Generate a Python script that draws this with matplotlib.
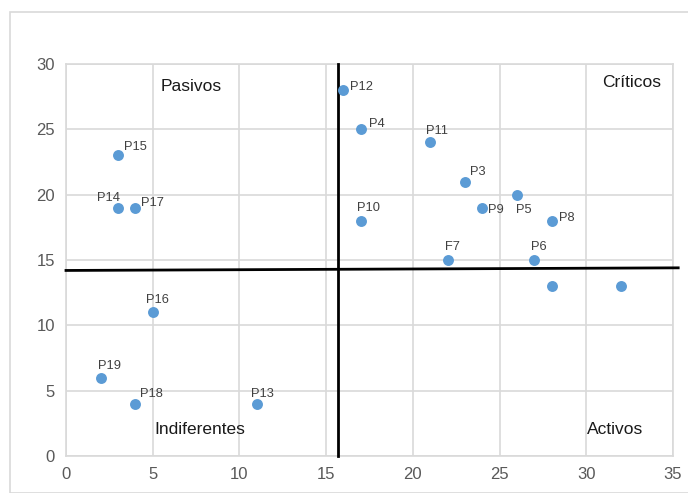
import matplotlib
matplotlib.use("Agg")
import matplotlib.pyplot as plt
from matplotlib.patches import Rectangle

plt.rcParams['font.family'] = ['Liberation Sans', 'DejaVu Sans']

labels = ["P12", "P4", "P11", "P3", "P5", "P9", "P8", "P10", "F7", "P6", "", "",
          "P15", "P14", "P17", "P16", "P19", "P18", "P13"]
xs = [16, 17, 21, 23, 26, 24, 28, 17, 22, 27, 28, 32, 3, 3, 4, 5, 2, 4, 11]
ys = [28, 25, 24, 21, 20, 19, 18, 18, 15, 15, 13, 13, 23, 19, 19, 11, 6, 4, 4]
# label offsets in points (dx, dy)
offsets = {
    "P12": (5, 0), "P4": (6, 2), "P11": (-3, 6), "P3": (4, 5), "P5": (-1, -13),
    "P9": (4, -4), "P8": (5, 0), "P10": (-3, 7), "F7": (-2, 7), "P6": (-2, 7),
    "P15": (4, 4), "P14": (-15, 5), "P17": (4, 1), "P16": (-5, 7), "P19": (-2, 6),
    "P18": (3, 5), "P13": (-4, 5),
}
quadrants = ["Pasivos", "Críticos", "Indiferentes", "Activos"]
xticks = [0, 5, 10, 15, 20, 25, 30, 35]
yticks = [0, 5, 10, 15, 20, 25, 30]
vline_x = 15.7
hline_y = (14.2, 14.4)

fig = plt.figure(figsize=(6.88, 4.93), dpi=100)
fig.patches.append(Rectangle((10/688, 0), 1, 1 - 12/493, transform=fig.transFigure,
                             fill=False, edgecolor='#d9d9d9', linewidth=1.2))
ax = fig.add_axes([66/688, 37/493, 607/688, 392/493])
ax.set_xlim(0, 35)
ax.set_ylim(0, 30)
ax.set_xticks(xticks)
ax.set_yticks(yticks)
ax.grid(True, color='#d9d9d9', linewidth=1.2)
ax.set_axisbelow(True)
for s in ax.spines.values():
    s.set_color('#d9d9d9')
    s.set_linewidth(1.2)
ax.tick_params(length=0, labelsize=12, labelcolor='#595959', pad=8)

ax.plot([vline_x, vline_x], [0, 30], color='black', linewidth=2, clip_on=False, zorder=3)
ax.plot([0, 35.3], list(hline_y), color='black', linewidth=2, clip_on=False, zorder=3)

ax.scatter(xs, ys, s=62, color='#5B9BD5', zorder=4, linewidths=0)
for lab, x, y in zip(labels, xs, ys):
    if lab:
        dx, dy = offsets[lab]
        ax.annotate(lab, (x, y), xytext=(dx, dy), textcoords='offset points',
                    fontsize=9.3, color='#404040', zorder=5)

ax.text(7.2, 28.3, quadrants[0], fontsize=12.5, ha='center', va='center', color='#1a1a1a')
ax.text(34.3, 28.6, quadrants[1], fontsize=12.5, ha='right', va='center', color='#1a1a1a')
ax.text(7.7, 2.0, quadrants[2], fontsize=12.5, ha='center', va='center', color='#1a1a1a')
ax.text(33.3, 2.0, quadrants[3], fontsize=12.5, ha='right', va='center', color='#1a1a1a')

fig.savefig("out.png", dpi=100)
